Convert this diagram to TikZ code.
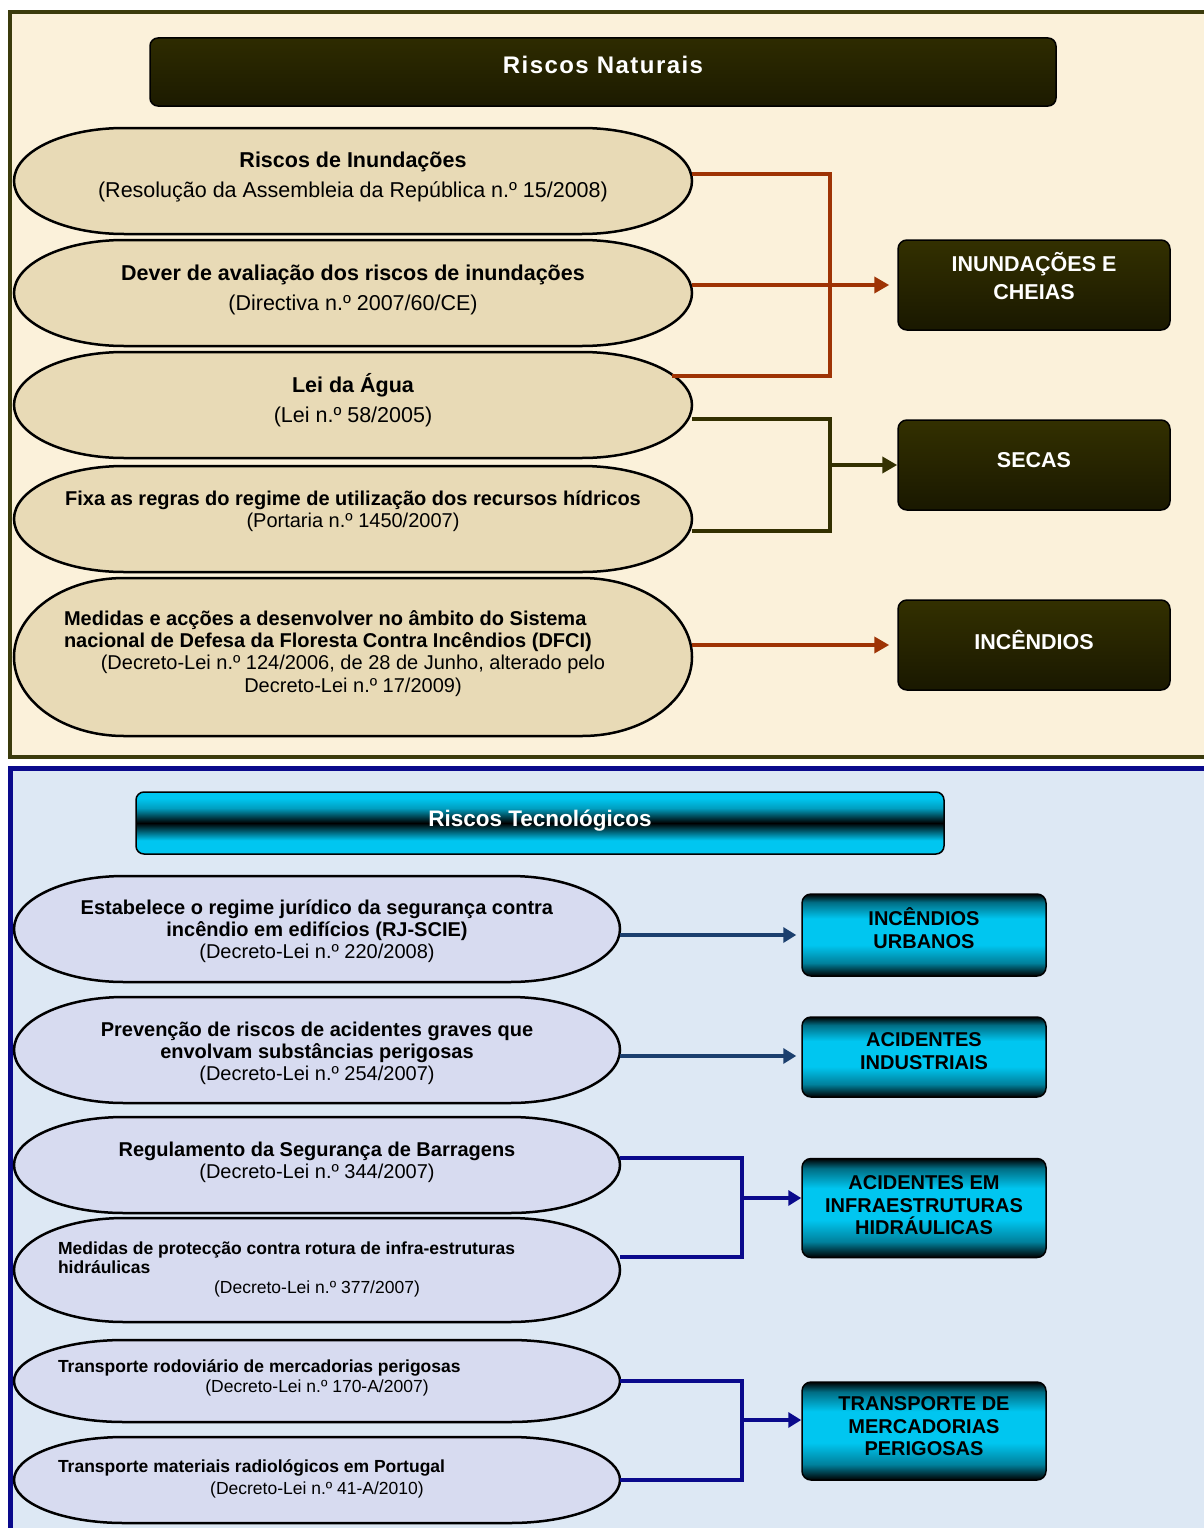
\documentclass[tikz,border=0pt]{standalone}
\usepackage{fontspec}
\setmainfont{Liberation Sans}
\usetikzlibrary{arrows.meta}

\definecolor{pergaminho}{HTML}{FBF1DA}
\definecolor{azulclaro}{HTML}{DDE8F4}
\definecolor{oliva}{HTML}{3B3B0C}
\definecolor{olivaesc}{HTML}{333000}
\definecolor{ferrugem}{HTML}{9E3304}
\definecolor{marinho}{HTML}{0A0A8C}
\definecolor{azulaco}{HTML}{1B3F6E}
\definecolor{areia}{HTML}{E8DAB6}
\definecolor{lilas}{HTML}{D7DBF0}
\definecolor{ciano}{HTML}{00C6F0}

\pgfdeclareverticalshading{faixaciano}{100bp}{color(0bp)=(black); color(25bp)=(black);
  color(33bp)=(ciano!65!black); color(44bp)=(ciano); color(60bp)=(ciano);
  color(70bp)=(ciano!55!black); color(75bp)=(black); color(100bp)=(black)}
\pgfdeclareverticalshading{faixatitulo}{100bp}{color(0bp)=(ciano); color(25bp)=(ciano);
  color(36bp)=(ciano); color(50bp)=(black); color(62bp)=(ciano!80!black);
  color(70bp)=(ciano); color(100bp)=(ciano)}

\newcommand\letraG{\fontsize{21.5}{29.5}\selectfont}
\newcommand\letraM{\fontsize{20}{22}\selectfont}
\newcommand\letraP{\fontsize{17.5}{19.5}\selectfont}

% elipse achatada: nome, cx, cy, a, b, letra, desvio do texto, texto
\newcommand\pill[8]{%
  \path[pill] ({#2-#4+110},{#3-#5}) -- ({#2+#4-110},{#3-#5})
    .. controls ({#2+#4-49},{#3-#5}) and ({#2+#4},{#3-0.552*#5}) .. ({#2+#4},{#3})
    .. controls ({#2+#4},{#3+0.552*#5}) and ({#2+#4-49},{#3+#5}) .. ({#2+#4-110},{#3+#5})
    -- ({#2-#4+110},{#3+#5})
    .. controls ({#2-#4+49},{#3+#5}) and ({#2-#4},{#3+0.552*#5}) .. ({#2-#4},{#3})
    .. controls ({#2-#4},{#3-0.552*#5}) and ({#2-#4+49},{#3-#5}) .. cycle;
  \node[inner sep=0pt, minimum width=2*#4, minimum height=2*#5] (#1) at (#2,#3) {};
  \node[pilltext, font=#6] (#1-txt) at (#2,{#3+(#7)}) {#8};
}

\begin{document}
\begin{tikzpicture}[
    x=1pt, y=-1pt,
    >={Triangle[length=15pt, width=16pt]},
    pill/.style={draw=black, line width=2.5pt},
    pilltext/.style={align=center, inner sep=0pt},
    titulonat/.style={
      draw=black, line width=1.5pt, rounded corners=8pt,
      top color=olivaesc!90!black, bottom color=olivaesc!55!black,
      text=white, font=\bfseries\fontsize{24}{28}\selectfont\addfontfeature{LetterSpace=6},
      minimum width=906, minimum height=68, text depth=14pt
    },
    titulotec/.style={
      draw=black, line width=1.5pt, rounded corners=8pt,
      shading=faixatitulo, text=white,
      font=\bfseries\fontsize{22.5}{26}\selectfont,
      minimum width=808, minimum height=62, text depth=10pt
    },
    caixanat/.style={
      draw=black, line width=1.5pt, rounded corners=9pt,
      top color=olivaesc, bottom color=olivaesc!50!black,
      text=white, font=\bfseries\fontsize{21.5}{28.5}\selectfont, align=center,
      minimum width=272, minimum height=90, text depth=10pt
    },
    caixatec/.style={
      draw=black, line width=1.5pt, rounded corners=9pt,
      shading=faixaciano, text=black,
      font=\bfseries\fontsize{20}{22.5}\selectfont, align=center,
      minimum width=244, text depth=10pt
    },
    ligferr/.style={draw=ferrugem, line width=4.5pt},
    ligoliva/.style={draw=olivaesc, line width=4pt},
    ligaco/.style={draw=azulaco, line width=3.5pt, >={Triangle[length=13pt, width=15pt]}},
    ligmar/.style={draw=marinho, line width=4.5pt, >={Triangle[length=13pt, width=15pt]}}
  ]

  \useasboundingbox (0,0) rectangle (1204,1528);
  \fill[white] (0,0) rectangle (1204,1528);

  % Paineis
  \draw[oliva, line width=4pt, fill=pergaminho] (10,12) rectangle (1214,757);
  \draw[marinho, line width=5pt, fill=azulclaro] (10,768) rectangle (1214,1540);

  % Riscos naturais
  \node[titulonat] (natural) at (603,72) {Riscos Naturais};

  \begin{scope}[pill/.append style={fill=areia}]
  \pill{inund}{353}{181}{339}{53}{\letraG}{-4}
    {\textbf{Riscos de Inundações}\\(Resolução da Assembleia da República n.º 15/2008)}
  \pill{avalia}{353}{293}{339}{53}{\letraG}{-3}
    {\textbf{Dever de avaliação dos riscos de inundações}\\(Directiva n.º 2007/60/CE)}
  \pill{agua}{353}{405}{339}{53}{\letraG}{-5}
    {\textbf{Lei da Água}\\(Lei n.º 58/2005)}
  \pill{regras}{353}{519}{339}{53}{\letraM}{-8}
    {\textbf{Fixa as regras do regime de utilização dos recursos hídricos}\\(Portaria n.º 1450/2007)}
  \pill{dfci}{353}{657}{339}{79}{\letraM}{-3}
    {\begin{minipage}{578pt}\raggedright
      {\bfseries Medidas e acções a desenvolver no âmbito do Sistema\\
      nacional de Defesa da Floresta Contra Incêndios (DFCI)}\\
      \makebox[\hsize]{(Decreto-Lei n.º 124/2006, de 28 de Junho, alterado pelo}\\[1pt]
      \makebox[\hsize]{Decreto-Lei n.º 17/2009)}
    \end{minipage}}
  \end{scope}

  \node[caixanat, text depth=18pt] (cheias) at (1034,285) {INUNDAÇÕES E\\CHEIAS};
  \node[caixanat] (secas) at (1034,465) {SECAS};
  \node[caixanat] (incend) at (1034,645) {INCÊNDIOS};

  % Ligacoes naturais
  \draw[ligferr] ([yshift=7]inund.east) -- ++(138,0) |- ([xshift=-20, yshift=-24]agua.north east);
  \draw[ligferr, ->, shorten >=8pt] ([yshift=8]avalia.east) -- ([yshift=8]avalia.east -| cheias.west);
  \draw[ligoliva] ([yshift=-14]agua.east) -- ++(138,0) coordinate (joelhoA) |- ([yshift=-12]regras.east);
  \draw[ligoliva, ->] (joelhoA |- secas.west) -- (secas.west);
  \draw[ligferr, ->, shorten >=8pt] ([yshift=12]dfci.east) -- ([yshift=12]dfci.east -| incend.west);

  % Riscos tecnologicos
  \node[titulotec] (tecno) at (540,823) {Riscos Tecnológicos};

  \begin{scope}[pill/.append style={fill=lilas}]
  \pill{scie}{317}{929}{303}{53}{\letraM}{2}
    {\textbf{Estabelece o regime jurídico da segurança contra}\\\textbf{incêndio em edifícios (RJ-SCIE)}\\(Decreto-Lei n.º 220/2008)}
  \pill{seveso}{317}{1050}{303}{53}{\letraM}{3}
    {\textbf{Prevenção de riscos de acidentes graves que}\\\textbf{envolvam substâncias perigosas}\\(Decreto-Lei n.º 254/2007)}
  \pill{barragens}{317}{1165}{303}{48}{\letraM}{-3}
    {\textbf{Regulamento da Segurança de Barragens}\\(Decreto-Lei n.º 344/2007)}
  \pill{infra}{317}{1270}{303}{52}{\letraP}{-1}
    {\begin{minipage}{518pt}\raggedright
      {\bfseries Medidas de protecção contra rotura de infra-estruturas\\hidráulicas}\\
      \makebox[\hsize]{(Decreto-Lei n.º 377/2007)}
    \end{minipage}}
  \pill{rodov}{317}{1381}{303}{41}{\letraP}{-3}
    {\begin{minipage}{518pt}\raggedright
      {\bfseries Transporte rodoviário de mercadorias perigosas}\\[1pt]
      \makebox[\hsize]{(Decreto-Lei n.º 170-A/2007)}
    \end{minipage}}
  \pill{radio}{317}{1480}{303}{43}{\letraP}{-1}
    {\begin{minipage}{518pt}\raggedright
      {\bfseries Transporte materiais radiológicos em Portugal}\\[2pt]
      \makebox[\hsize]{(Decreto-Lei n.º 41-A/2010)}
    \end{minipage}}
  \end{scope}

  \node[caixatec, minimum height=82, text depth=14pt] (urbanos) at (924,935) {INCÊNDIOS\\URBANOS};
  \node[caixatec, minimum height=80, text depth=12pt] (industr) at (924,1057) {ACIDENTES\\INDUSTRIAIS};
  \node[caixatec, minimum height=99, text depth=5pt] (hidraul) at (924,1208) {ACIDENTES EM\\INFRAESTRUTURAS\\HIDRÁULICAS};
  \node[caixatec, minimum height=98] (transp) at (924,1431) {TRANSPORTE DE\\MERCADORIAS\\PERIGOSAS};

  % Ligacoes tecnologicas
  \coordinate (alvoB) at ([yshift=10]hidraul.west);
  \coordinate (alvoC) at ([yshift=11]transp.west);
  \draw[ligaco, ->, shorten >=5pt] ([yshift=-6]scie.east) -- ([yshift=-6]scie.east -| urbanos.west);
  \draw[ligaco, ->, shorten >=5pt] ([yshift=-6]seveso.east) -- ([yshift=-6]seveso.east -| industr.west);
  \draw[ligmar] ([yshift=7]barragens.east) -- ++(122,0) coordinate (joelhoB) |- ([yshift=13]infra.east);
  \draw[ligmar, ->] (joelhoB |- alvoB) -- (alvoB);
  \draw[ligmar] (rodov.east) -- ++(122,0) coordinate (joelhoC) |- (radio.east);
  \draw[ligmar, ->] (joelhoC |- alvoC) -- (alvoC);

\end{tikzpicture}
\end{document}
